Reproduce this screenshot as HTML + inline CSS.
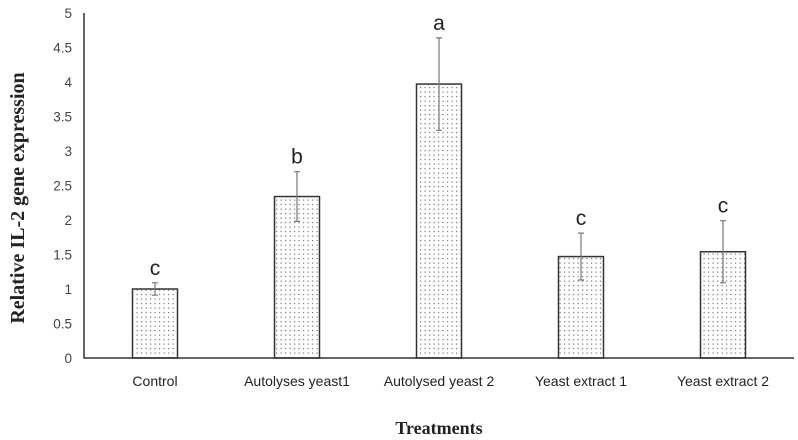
<!DOCTYPE html>
<html><head><meta charset="utf-8"><style>
html,body{margin:0;padding:0;background:#fff;width:798px;height:440px;overflow:hidden}
</style></head><body>
<svg id="chart" width="798" height="440" xmlns="http://www.w3.org/2000/svg">
<defs><pattern id="dots" width="4.5" height="4.5" patternUnits="userSpaceOnUse"><rect width="4.5" height="4.5" fill="#fff"/><rect x="1.5" y="1.5" width="1.2" height="1.2" fill="#777"/></pattern></defs>
</svg>
<script>
const categories=["Control","Autolyses yeast1","Autolysed yeast 2","Yeast extract 1","Yeast extract 2"];
const values=[1.0,2.34,3.97,1.47,1.54];
const errors=[0.09,0.36,0.67,0.34,0.45];
const letters=["c","b","a","c","c"];
const yTicks=[0,0.5,1,1.5,2,2.5,3,3.5,4,4.5,5];
const tickLabels=["0","0.5","1","1.5","2","2.5","3","3.5","4","4.5","5"];
const svg=document.getElementById('chart');
const NS="http://www.w3.org/2000/svg";
const x0=84,y0=358,yTop=13,band=142,bw=45;
const y=v=>y0-(v/5)*(y0-yTop);
const xc=i=>x0+band*i+band/2;
function mk(t,a,txt){const e=document.createElementNS(NS,t);for(const k in a)e.setAttribute(k,a[k]);if(txt!==undefined)e.textContent=txt;svg.appendChild(e);return e;}
yTicks.forEach((v,i)=>{const t=mk('text',{x:72,y:y(v)+5,'text-anchor':'end','font-family':'Liberation Sans, sans-serif','font-size':13.5,fill:'#444'},tickLabels[i]);

});
categories.forEach((c,i)=>{
const b=mk('rect',{x:xc(i)-bw/2,y:y(values[i]),width:bw,height:y0-y(values[i]),fill:'url(#dots)',stroke:'#333','stroke-width':1.5});


const hi=y(values[i]+errors[i]),lo=y(values[i]-errors[i]);
const e=mk('path',{d:`M${xc(i)},${hi}V${lo}M${xc(i)-3},${hi}H${xc(i)+3}M${xc(i)-3},${lo}H${xc(i)+3}`,stroke:'#777','stroke-width':1.2,fill:'none'});


const l=mk('text',{x:xc(i),y:hi-8,'text-anchor':'middle','font-family':'Liberation Sans, sans-serif','font-size':21,fill:'#222'},letters[i]);


const t=mk('text',{x:xc(i),y:386,'text-anchor':'middle','font-family':'Liberation Sans, sans-serif','font-size':14,fill:'#222'},c);


});
const ax=mk('path',{d:`M${x0},${yTop}V${y0}H794`,stroke:'#333','stroke-width':1.5,fill:'none'});


const xt=mk('text',{x:439,y:434,'text-anchor':'middle','font-family':'Liberation Serif, serif','font-size':18,'font-weight':'bold',fill:'#222'},'Treatments');


const yt=mk('text',{x:0,y:0,transform:'translate(24,198) rotate(-90)','text-anchor':'middle','font-family':'Liberation Serif, serif','font-size':20,'font-weight':'bold',fill:'#222'},'Relative IL-2 gene expression');


</script>
</body></html>
